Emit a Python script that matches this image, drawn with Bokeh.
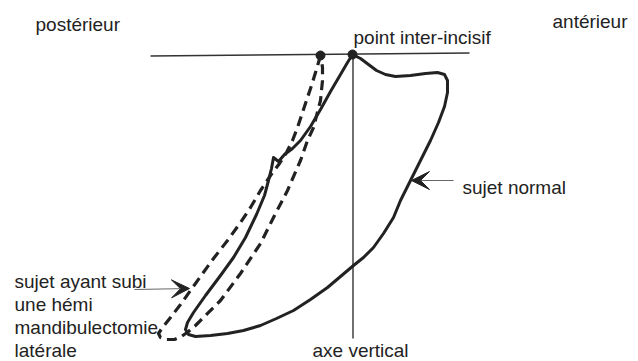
from bokeh.plotting import figure
from bokeh.models import Range1d, Arrow, VeeHead, ColumnDataSource
from bokeh.core.properties import value
from bokeh.embed import file_html
from bokeh.resources import INLINE

# Reference frame (diagram coordinates, y downward)
h_line_x = [150, 469]
h_line_y = [55.5, 52.5]
v_line_x = [352.5, 352.5]
v_line_y = [53, 338]

# "sujet normal" path
normal_x = [352, 360, 368, 376, 385, 395, 410, 425, 437, 444, 447, 447, 444, 438, 430, 420, 410, 400, 393, 383,
            373, 363, 353, 340, 327, 310, 293, 276, 260, 243, 227, 210, 195, 188, 185, 187, 193, 205, 220, 233,
            245, 256, 264, 268, 271, 273, 278, 284, 292, 300, 310, 320, 330, 340, 347, 352]
normal_y = [54, 58, 64, 70, 74, 76, 75, 73, 72, 74, 80, 92, 106, 122, 140, 160, 180, 200, 217, 233,
            247, 257, 265, 276, 287, 299, 310, 318, 325, 330, 333, 335, 336, 334, 329, 322, 312, 295, 275, 257,
            237, 214, 195, 180, 168, 157, 161, 154, 148, 140, 126, 109, 91, 74, 62, 54]

# "hémi mandibulectomie" path
hemi_x = [320, 318, 315, 311, 307, 302, 297, 292, 286, 279, 270, 260, 250, 240, 227, 213, 200, 190, 180, 170,
          162, 158, 160, 166, 174, 181, 188, 195, 203, 220, 240, 260, 273, 287, 300, 307, 313, 320, 322, 322, 321, 320]
hemi_y = [55, 62, 72, 85, 97, 112, 127, 140, 152, 163, 175, 190, 207, 222, 240, 258, 276, 290, 304, 317,
          327, 333, 337, 339, 339, 336, 331, 325, 317, 300, 273, 243, 217, 190, 160, 140, 127, 100, 80, 67, 60, 55]

dots_x = [320, 352]
dots_y = [55, 54]

labels = ["postérieur", "antérieur", "point inter-incisif", "sujet normal", "axe vertical",
          "sujet ayant subi", "une hémi", "mandibulectomie", "latérale"]
label_x = [35, 627, 353, 462, 312, 14, 14, 14, 14]
label_y = [24, 21, 37, 187, 350, 281, 304, 327, 350]
label_align = ["left", "right", "left", "left", "left", "left", "left", "left", "left"]

W, H = 638, 361
p = figure(width=W, height=H, x_range=Range1d(0, W), y_range=Range1d(H, 0),
           output_backend="svg", toolbar_location=None, min_border=0)
p.axis.visible = False
p.grid.visible = False
p.outline_line_color = None
p.background_fill_color = "white"
p.border_fill_color = "white"

p.line(h_line_x, h_line_y, line_color="#333333", line_width=1.4)
p.line(v_line_x, v_line_y, line_color="#333333", line_width=1.4)

p.line(normal_x, normal_y, line_color="#222222", line_width=3, line_join="round", line_cap="round")
p.line(hemi_x, hemi_y, line_color="#222222", line_width=3.2, line_dash="10 6", line_join="round")

p.scatter(dots_x, dots_y, size=9, color="#222222")

src = ColumnDataSource(dict(x=label_x, y=label_y, t=labels, a=label_align))
p.text(x="x", y="y", text="t", text_align="a", source=src, text_baseline="alphabetic",
       text_font=value("Liberation Sans"), text_font_size="19px", text_color="#222222")

p.add_layout(Arrow(x_start=453, y_start=180, x_end=411, y_end=180, line_color="#666666", line_width=1.2,
                   end=VeeHead(size=18, fill_color="#222222", line_color="#222222")))
p.add_layout(Arrow(x_start=134, y_start=289, x_end=189, y_end=288, line_color="#666666", line_width=1.2,
                   end=VeeHead(size=18, fill_color="#222222", line_color="#222222")))

open("out.html", "w").write(file_html(p, INLINE))
